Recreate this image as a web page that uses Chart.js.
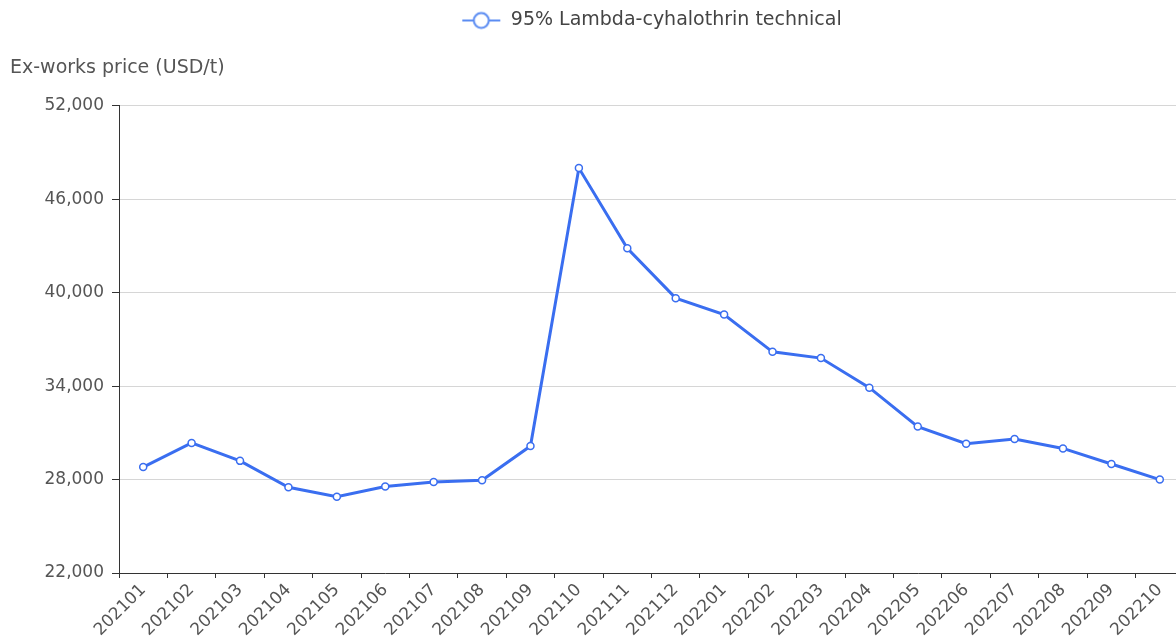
<!DOCTYPE html>
<html>
<head>
<meta charset="utf-8">
<script src="https://cdn.jsdelivr.net/npm/chart.js@4.4.0/dist/chart.umd.min.js"></script>
<style>
    body { margin: 0; overflow: hidden; background: #fff; }
    #wrap { width: 1200px; height: 640px; }
</style>
</head>
<body>
<div id="wrap"><canvas id="priceChart"></canvas></div>
<script>
// monthly ex-works price
const months = ["202101", "202102", "202103", "202104", "202105", "202106", "202107", "202108", "202109", "202110", "202111",
    "202112", "202201", "202202", "202203", "202204", "202205", "202206", "202207", "202208", "202209", "202210"];
const prices = [28800, 30350, 29200, 27500, 26900, 27550, 27850, 27950, 30150, 48000, 42850,
    39650, 38600, 36200, 35800, 33900, 31400, 30300, 30600, 30000, 29000, 28000];
const seriesName = "95% Lambda-cyhalothrin technical";
const yTitle = "Ex-works price (USD/t)";
const yTicks = [22000, 28000, 34000, 40000, 46000, 52000];

const blue = "#3a6ef0";
const fontFamily = "'DejaVu Sans', sans-serif";

// legend icon: short line with a hollow circle
function legendIcon() {
    let c = document.createElement("canvas");
    c.width = 40;
    c.height = 20;
    let g = c.getContext("2d");
    g.strokeStyle = "#5b8cf2";
    g.lineWidth = 2;
    g.beginPath();
    g.moveTo(1, 10);
    g.lineTo(39, 10);
    g.stroke();
    g.beginPath();
    g.arc(20, 10, 7.5, 0, Math.PI * 2);
    g.fillStyle = "#fff";
    g.fill();
    g.stroke();
    return c;
}

let ctx = document.getElementById("priceChart").getContext("2d");
let chart = new Chart(ctx, {
    type: "line",
    data: {
        labels: months,
        datasets: [{
            label: seriesName,
            data: prices,
            borderColor: blue,
            borderWidth: 3,
            backgroundColor: "#fff",
            pointRadius: 3.5,
            pointBorderWidth: 1.5,
            pointBorderColor: blue,
            pointBackgroundColor: "#fff",
            tension: 0
        }]
    },
    options: {
        responsive: true,
        maintainAspectRatio: false,
        animation: false,
        layout: { padding: { left: 10, right: 16, top: 1, bottom: 0 } },
        plugins: {
            legend: {
                display: true,
                position: "top",
                fullSize: false,
                labels: {
                    usePointStyle: true,
                    pointStyle: legendIcon(),
                    pointStyleWidth: 40,
                    color: "#444",
                    padding: 10,
                    font: { family: fontFamily, size: 19 }
                }
            },
            title: {
                display: true,
                text: yTitle,
                align: "start",
                position: "top",
                weight: 500,
                color: "#555",
                padding: { top: 17, bottom: 26 },
                font: { family: fontFamily, size: 19, weight: "normal" }
            },
            tooltip: { enabled: false }
        },
        scales: {
            x: {
                offset: true,
                afterFit: function (scale) { scale.height = 67; },
                grid: {
                    drawOnChartArea: false,
                    drawTicks: true,
                    tickLength: 5,
                    tickColor: "#333",
                    offset: true
                },
                border: { color: "#333", width: 1 },
                ticks: {
                    autoSkip: false,
                    minRotation: 45,
                    maxRotation: 45,
                    color: "#555",
                    padding: 2,
                    font: { family: fontFamily, size: 17 }
                }
            },
            y: {
                min: yTicks[0],
                max: yTicks[yTicks.length - 1],
                afterFit: function (scale) { scale.width = 109; },
                grid: {
                    color: "#d6d6d6",
                    lineWidth: 1,
                    tickLength: 7,
                    tickColor: "#333"
                },
                border: { color: "#333", width: 1 },
                ticks: {
                    stepSize: 6000,
                    color: "#555",
                    padding: 8,
                    font: { family: fontFamily, size: 17 },
                    callback: function (value) { return value.toLocaleString("en-US"); }
                }
            }
        }
    }
});
</script>
</body>
</html>
